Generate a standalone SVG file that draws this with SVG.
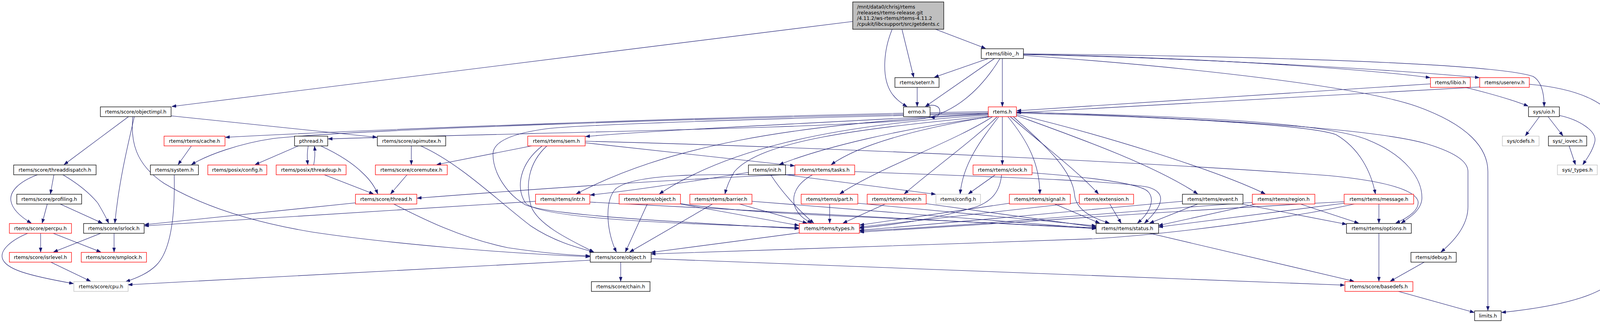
<svg xmlns="http://www.w3.org/2000/svg" width="4156" height="828" viewBox="0 0 4156 828">
<defs>
<style>
.n rect{fill:#fff;stroke:#000;stroke-width:1.3}
.n.r rect{stroke:#f00}
.n.g rect{stroke:#bfbfbf}
#n-root rect{fill:#bfbfbf}
text{font-family:"DejaVu Sans","Liberation Sans",sans-serif;font-size:12.6px;fill:#000;text-anchor:middle}
#n-root text{text-anchor:start}
#edges path{fill:none;stroke:#191970;stroke-width:1.1;marker-end:url(#arr)}
</style>
<marker id="arr" markerUnits="userSpaceOnUse" markerWidth="12" markerHeight="9" refX="11" refY="4" orient="auto">
<path d="M0,0 L11,4 L0,8 z" fill="#191970" stroke="#191970" stroke-width="0.8"/>
</marker>
</defs>
<rect width="4156" height="828" fill="#fff"/>
<g id="edges">
<path d="M2183,55 L440,273"/>
<path d="M2284,75 C2262,128 2256,198 2282,238 C2292,253 2306,264 2322,273"/>
<path d="M2309,75 L2339,198"/>
<path d="M2395,75 L2523,124"/>
<path d="M2530,150 L2392,198"/>
<path d="M2546,150 L2369,273"/>
<path d="M2566,150 L2566,273"/>
<path d="M2560,150 C2520,215 2460,282 2370,303 C2250,326 1300,342 840,356"/>
<path d="M2620,139 C3000,145 3450,172 3661,199"/>
<path d="M2620,140 C3050,148 3560,178 3787,199"/>
<path d="M2620,138 C3150,143 3820,160 3925,196 C3948,210 3953,245 3953,273"/>
<path d="M2620,142 C3050,172 3480,222 3625,272 C3760,320 3809,380 3809,440 L3809,796"/>
<path d="M2348,224 L2348,273"/>
<path d="M2372,274 C2386,265 2406,271 2406,285 C2406,298 2394,302 2382,300"/>
<path d="M3662,215 L2603,284"/>
<path d="M3788,223 L2603,289"/>
<path d="M3751,224 C3800,236 3870,255 3912,272"/>
<path d="M3915,216 C4030,226 4150,262 4150,360 L4150,676 C4150,762 3950,790 3844,801"/>
<path d="M3941,299 L3905,348"/>
<path d="M3963,299 L4001,348"/>
<path d="M3992,296 C4040,306 4092,336 4082,366 C4076,388 4063,406 4052,422"/>
<path d="M4017,374 L4033,422"/>
<path d="M329,299 L164,422"/>
<path d="M344,299 C330,360 305,460 294,572"/>
<path d="M340,299 C334,360 345,420 420,470 C520,530 650,570 800,595 C1000,625 1300,650 1510,658"/>
<path d="M438,297 L965,352"/>
<path d="M2530,286 C1800,298 900,335 577,352"/>
<path d="M2530,289 C1800,302 900,333 700,355 C610,368 530,398 490,422"/>
<path d="M490,374 L456,422"/>
<path d="M446,448 C448,540 440,640 400,680 C380,700 352,712 322,722"/>
<path d="M96,448 C50,465 24,490 28,515 C32,540 60,560 80,572"/>
<path d="M138,448 L129,497"/>
<path d="M161,448 C195,468 225,490 250,520 C262,540 272,558 278,572"/>
<path d="M121,523 L108,572"/>
<path d="M154,523 L262,572"/>
<path d="M104,598 L104,646"/>
<path d="M136,598 L258,646"/>
<path d="M71,598 C30,615 0,640 6,662 C14,690 70,706 188,727"/>
<path d="M258,598 L137,646"/>
<path d="M292,598 L292,646"/>
<path d="M130,672 L232,721"/>
<path d="M764,374 L653,422"/>
<path d="M789,374 C786,390 786,405 788,422"/>
<path d="M803,423 C806,408 807,392 805,375"/>
<path d="M821,374 C860,392 900,415 930,445 C948,462 960,480 967,497"/>
<path d="M830,448 L956,497"/>
<path d="M1053,374 L1053,422"/>
<path d="M1077,374 C1180,420 1280,520 1360,580 C1420,620 1480,635 1520,646"/>
<path d="M1042,448 L1000,497"/>
<path d="M1361,374 L1118,422"/>
<path d="M910,520 L370,576"/>
<path d="M1008,523 C1080,560 1180,610 1300,635 C1400,650 1460,654 1510,656"/>
<path d="M1371,516 L370,579"/>
<path d="M2530,291 C2200,310 1700,332 1499,350"/>
<path d="M2530,293 C2000,318 1700,380 1475,497"/>
<path d="M2530,295 C2100,322 1850,390 1688,497"/>
<path d="M2532,298 C2200,330 1950,360 1880,440 C1868,460 1860,480 1856,497"/>
<path d="M2538,299 C2300,330 2100,380 1995,422"/>
<path d="M2533,299 C2350,330 2200,370 2128,422"/>
<path d="M2541,299 C2450,360 2250,430 2150,497"/>
<path d="M2553,299 C2490,360 2380,440 2315,497"/>
<path d="M2557,299 C2510,360 2465,420 2458,497"/>
<path d="M2566,299 L2566,422"/>
<path d="M2580,299 C2630,360 2662,420 2662,497"/>
<path d="M2586,299 C2680,380 2760,440 2812,497"/>
<path d="M2602,296 C2750,350 2950,420 3066,497"/>
<path d="M2602,293 C2800,340 3100,430 3239,497"/>
<path d="M2602,290 C3000,300 3350,320 3420,345 C3480,380 3510,440 3521,497"/>
<path d="M2602,288 C3100,298 3400,318 3500,358 C3600,398 3642,460 3640,510 C3638,540 3605,560 3587,572"/>
<path d="M2602,287 C3000,300 3500,325 3650,368 C3740,395 3758,420 3758,440 L3758,530 C3758,580 3720,620 3689,646"/>
<path d="M2594,299 C2660,360 2745,430 2751,500 C2755,540 2800,560 2840,572"/>
<path d="M2530,291 C2100,300 1500,318 1400,330 C1340,338 1262,355 1262,395 C1262,445 1300,500 1345,525 C1400,550 1700,568 2045,586"/>
<path d="M1498,366 L2034,425"/>
<path d="M1498,362 C2200,380 3000,420 3400,450 C3560,465 3622,490 3630,515 C3635,540 3600,560 3573,572"/>
<path d="M1388,374 C1330,420 1320,480 1345,520 C1380,560 1700,572 2045,584"/>
<path d="M1400,374 C1350,420 1345,480 1360,530 C1380,580 1470,620 1520,646"/>
<path d="M1973,448 C2000,490 2040,535 2083,572"/>
<path d="M1916,442 C1800,460 1650,485 1511,500"/>
<path d="M2011,448 L2395,498"/>
<path d="M2035,447 C1700,460 1300,490 1068,508"/>
<path d="M2035,449 C1800,445 1620,445 1575,485 C1545,520 1555,600 1578,646"/>
<path d="M2188,440 C2500,452 2850,462 2940,480 C2990,495 2975,530 2930,572"/>
<path d="M2080,448 C2040,470 2025,500 2035,530 C2045,555 2065,565 2078,572"/>
<path d="M2548,448 L2479,497"/>
<path d="M2564,448 C2560,490 2540,515 2500,530 C2400,560 2300,575 2200,585"/>
<path d="M2642,443 C2760,452 2890,466 2930,485 C2960,500 2950,540 2912,572"/>
<path d="M2266,523 L2158,572"/>
<path d="M2370,522 L2806,582"/>
<path d="M2124,523 L2124,572"/>
<path d="M2196,521 L2806,579"/>
<path d="M2584,521 L2201,577"/>
<path d="M2700,523 L2815,572"/>
<path d="M2763,519 L2201,582"/>
<path d="M2841,523 L2870,572"/>
<path d="M3027,516 C2700,545 2400,575 2201,590"/>
<path d="M3066,523 L2943,572"/>
<path d="M3179,523 L3447,575"/>
<path d="M3206,519 C2900,540 2500,578 2201,592"/>
<path d="M3215,523 L2966,578"/>
<path d="M3329,523 L3478,572"/>
<path d="M3530,523 L3530,572"/>
<path d="M3441,521 L2966,582"/>
<path d="M3441,517 C3000,540 2500,578 2201,595"/>
<path d="M3467,523 C3300,560 3000,600 2800,612 C2400,628 1900,640 1667,651"/>
<path d="M2046,597 L1667,647"/>
<path d="M1657,523 L1601,646"/>
<path d="M1742,523 L2045,578"/>
<path d="M1742,522 C1850,538 2000,548 2200,556 C2500,568 2700,578 2806,584"/>
<path d="M1510,518 C1800,535 2200,552 2806,586"/>
<path d="M1824,523 L1612,646"/>
<path d="M1893,523 L2066,572"/>
<path d="M1925,516 L2806,586"/>
<path d="M1511,667 L328,730"/>
<path d="M1589,672 L1589,721"/>
<path d="M1667,663 L3442,731"/>
<path d="M2943,598 L3466,721"/>
<path d="M3530,598 L3530,721"/>
<path d="M3646,672 L3559,721"/>
<path d="M3580,747 L3774,801"/>
</g>
<g id="n-root" class="n"><rect x="2183" y="5" width="233" height="70"/><text x="2194" y="22">/mnt/data0/chrisj/rtems</text><text x="2194" y="36.7">/releases/rtems-release.git</text><text x="2194" y="51.3">/4.11.2/ws-rtems/rtems-4.11.2</text><text x="2194" y="66">/cpukit/libcsupport/src/getdents.c</text></g>
<g id="n-libio_" class="n"><rect x="2512" y="125" width="108" height="25"/><text x="2566" y="142">rtems/libio_.h</text></g>
<g id="n-seterr" class="n"><rect x="2291" y="199" width="113" height="25"/><text x="2347.5" y="216">rtems/seterr.h</text></g>
<g id="n-libio" class="n r"><rect x="3662" y="199" width="102" height="25"/><text x="3713" y="216">rtems/libio.h</text></g>
<g id="n-userenv" class="n r"><rect x="3788" y="199" width="127" height="25"/><text x="3851.5" y="216">rtems/userenv.h</text></g>
<g id="n-objectimpl" class="n"><rect x="257" y="274" width="181" height="25"/><text x="347.5" y="291">rtems/score/objectimpl.h</text></g>
<g id="n-errno" class="n"><rect x="2313" y="274" width="68" height="25"/><text x="2347" y="291">errno.h</text></g>
<g id="n-rtems" class="n r"><rect x="2530" y="274" width="72" height="25"/><text x="2566" y="291">rtems.h</text></g>
<g id="n-uio" class="n"><rect x="3913" y="274" width="79" height="25"/><text x="3952.5" y="291">sys/uio.h</text></g>
<g id="n-cache" class="n r"><rect x="420" y="349" width="156" height="25"/><text x="498" y="366">rtems/rtems/cache.h</text></g>
<g id="n-pthread" class="n"><rect x="754" y="349" width="85" height="25"/><text x="796.5" y="366">pthread.h</text></g>
<g id="n-apimutex" class="n"><rect x="966" y="349" width="175" height="25"/><text x="1053.5" y="366">rtems/score/apimutex.h</text></g>
<g id="n-sem" class="n r"><rect x="1351" y="349" width="147" height="25"/><text x="1424.5" y="366">rtems/rtems/sem.h</text></g>
<g id="n-cdefs" class="n g"><rect x="3846" y="349" width="94" height="25"/><text x="3893" y="366">sys/cdefs.h</text></g>
<g id="n-iovec" class="n"><rect x="3964" y="349" width="98" height="25"/><text x="4013" y="366">sys/_iovec.h</text></g>
<g id="n-threaddispatch" class="n"><rect x="35" y="423" width="211" height="25"/><text x="140.5" y="440">rtems/score/threaddispatch.h</text></g>
<g id="n-system" class="n"><rect x="385" y="423" width="123" height="25"/><text x="446.5" y="440">rtems/system.h</text></g>
<g id="n-posixconfig" class="n r"><rect x="532" y="423" width="151" height="25"/><text x="607.5" y="440">rtems/posix/config.h</text></g>
<g id="n-threadsup" class="n r"><rect x="707" y="423" width="179" height="25"/><text x="796.5" y="440">rtems/posix/threadsup.h</text></g>
<g id="n-coremutex" class="n r"><rect x="961" y="423" width="184" height="25"/><text x="1053" y="440">rtems/score/coremutex.h</text></g>
<g id="n-init" class="n"><rect x="1916" y="423" width="95" height="25"/><text x="1963.5" y="440">rtems/init.h</text></g>
<g id="n-tasks" class="n r"><rect x="2035" y="423" width="153" height="25"/><text x="2111.5" y="440">rtems/rtems/tasks.h</text></g>
<g id="n-clock" class="n r"><rect x="2491" y="423" width="151" height="25"/><text x="2566.5" y="440">rtems/rtems/clock.h</text></g>
<g id="n-systypes" class="n g"><rect x="3987" y="423" width="102" height="25"/><text x="4038" y="440">sys/_types.h</text></g>
<g id="n-profiling" class="n"><rect x="43" y="498" width="166" height="25"/><text x="126" y="515">rtems/score/profiling.h</text></g>
<g id="n-thread" class="n r"><rect x="910" y="498" width="157" height="25"/><text x="988.5" y="515">rtems/score/thread.h</text></g>
<g id="n-intr" class="n r"><rect x="1371" y="498" width="139" height="25"/><text x="1440.5" y="515">rtems/rtems/intr.h</text></g>
<g id="n-robject" class="n r"><rect x="1585" y="498" width="157" height="25"/><text x="1663.5" y="515">rtems/rtems/object.h</text></g>
<g id="n-barrier" class="n r"><rect x="1766" y="498" width="159" height="25"/><text x="1845.5" y="515">rtems/rtems/barrier.h</text></g>
<g id="n-part" class="n r"><rect x="2051" y="498" width="145" height="25"/><text x="2123.5" y="515">rtems/rtems/part.h</text></g>
<g id="n-timer" class="n r"><rect x="2220" y="498" width="151" height="25"/><text x="2295.5" y="515">rtems/rtems/timer.h</text></g>
<g id="n-config" class="n g"><rect x="2396" y="498" width="114" height="25"/><text x="2453" y="515">rtems/config.h</text></g>
<g id="n-signal" class="n r"><rect x="2584" y="498" width="156" height="25"/><text x="2662" y="515">rtems/rtems/signal.h</text></g>
<g id="n-extension" class="n r"><rect x="2763" y="498" width="139" height="25"/><text x="2832.5" y="515">rtems/extension.h</text></g>
<g id="n-event" class="n"><rect x="3027" y="498" width="155" height="25"/><text x="3104.5" y="515">rtems/rtems/event.h</text></g>
<g id="n-region" class="n r"><rect x="3206" y="498" width="160" height="25"/><text x="3286" y="515">rtems/rtems/region.h</text></g>
<g id="n-message" class="n r"><rect x="3441" y="498" width="178" height="25"/><text x="3530" y="515">rtems/rtems/message.h</text></g>
<g id="n-percpu" class="n r"><rect x="24" y="573" width="159" height="25"/><text x="103.5" y="590">rtems/score/percpu.h</text></g>
<g id="n-isrlock" class="n"><rect x="214" y="573" width="155" height="25"/><text x="291.5" y="590">rtems/score/isrlock.h</text></g>
<g id="n-types" class="n r"><rect x="2046" y="573" width="154" height="25"/><text x="2123" y="590">rtems/rtems/types.h</text></g>
<g id="n-status" class="n"><rect x="2806" y="573" width="160" height="25"/><text x="2886" y="590">rtems/rtems/status.h</text></g>
<g id="n-options" class="n"><rect x="3447" y="573" width="166" height="25"/><text x="3530" y="590">rtems/rtems/options.h</text></g>
<g id="n-isrlevel" class="n r"><rect x="24" y="647" width="159" height="25"/><text x="103.5" y="664">rtems/score/isrlevel.h</text></g>
<g id="n-smplock" class="n r"><rect x="208" y="647" width="167" height="25"/><text x="291.5" y="664">rtems/score/smplock.h</text></g>
<g id="n-sobject" class="n"><rect x="1511" y="647" width="156" height="25"/><text x="1589" y="664">rtems/score/object.h</text></g>
<g id="n-debug" class="n"><rect x="3612" y="647" width="116" height="25"/><text x="3670" y="664">rtems/debug.h</text></g>
<g id="n-cpu" class="n g"><rect x="189" y="722" width="139" height="25"/><text x="258.5" y="739">rtems/score/cpu.h</text></g>
<g id="n-chain" class="n"><rect x="1514" y="722" width="150" height="25"/><text x="1589" y="739">rtems/score/chain.h</text></g>
<g id="n-basedefs" class="n r"><rect x="3443" y="722" width="174" height="25"/><text x="3530" y="739">rtems/score/basedefs.h</text></g>
<g id="n-limits" class="n"><rect x="3775" y="797" width="68" height="25"/><text x="3809" y="814">limits.h</text></g>
</svg>
